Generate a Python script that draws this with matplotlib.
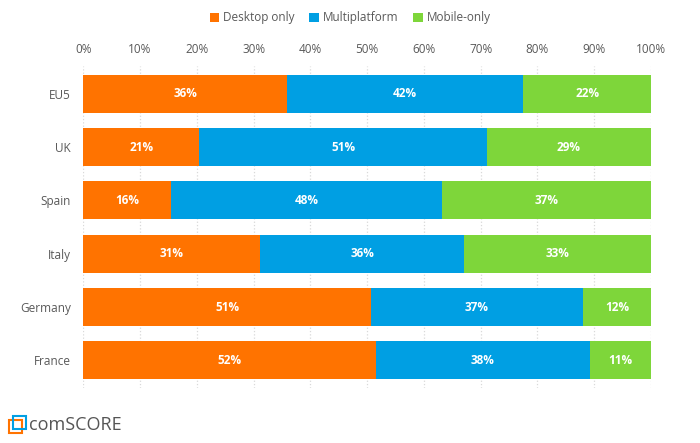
import numpy as np
import matplotlib.pyplot as plt
from matplotlib.patches import Rectangle

plt.rcParams['font.family'] = ['Open Sans', 'DejaVu Sans']

# data (bar widths) plus the printed labels
countries = ['EU5', 'UK', 'Spain', 'Italy', 'Germany', 'France']
desktop = [35.9, 20.4, 15.5, 31.2, 50.7, 51.5]
multi = [41.6, 50.7, 47.7, 35.8, 37.3, 37.8]
mobile = [22.5, 28.9, 36.8, 33.0, 12.0, 10.7]
desktop_lbl = ['36%', '21%', '16%', '31%', '51%', '52%']
multi_lbl = ['42%', '51%', '48%', '36%', '37%', '38%']
mobile_lbl = ['22%', '29%', '37%', '33%', '12%', '11%']
series_names = ['Desktop only', 'Multiplatform', 'Mobile-only']
colors = ['#FF7300', '#009FE3', '#7ED63A']
ticks = np.arange(0, 101, 10)

fig = plt.figure(figsize=(7, 4.43), dpi=100)
ax = fig.add_axes([0.119, 0.124, 0.811, 0.727])

y = np.arange(len(countries))
left = np.zeros(len(countries))
for vals, lbls, col, name in zip([desktop, multi, mobile],
                                 [desktop_lbl, multi_lbl, mobile_lbl],
                                 colors, series_names):
    bars = ax.barh(y, vals, left=left, height=0.71, color=col, label=name, zorder=3)
    ax.bar_label(bars, labels=lbls, label_type='center', color='white',
                 fontsize=8.5, fontweight='bold')
    left = left + np.array(vals)

ax.set_xlim(0, 100)
ax.set_ylim(5.52, -0.52)
ax.set_xticks(ticks)
ax.set_xticklabels([f'{t}%' for t in ticks])
ax.xaxis.tick_top()
ax.tick_params(axis='x', length=0, pad=7, labelsize=8.5, labelcolor='#595959')
ax.set_yticks(y)
ax.set_yticklabels(countries)
ax.tick_params(axis='y', length=0, pad=9, labelsize=8.5, labelcolor='#595959')
ax.grid(axis='x', color='#D9D9D9', linestyle=':', linewidth=0.9, zorder=0)
for s in ax.spines.values():
    s.set_visible(False)

ax.legend(loc='center', bbox_to_anchor=((0.5 - 0.119) / 0.811, (1 - 18 / 443 - 0.124) / 0.727),
          ncol=3, frameon=False, fontsize=8.5, handlelength=0.8, handleheight=0.8,
          handletextpad=0.3, columnspacing=1.3, labelcolor='#595959')

# comScore logo
fig.patches.append(Rectangle((0.013, 0.022), 0.018, 0.03, transform=fig.transFigure,
                             fill=False, edgecolor='#FF7300', linewidth=1.5))
fig.patches.append(Rectangle((0.019, 0.032), 0.018, 0.03, transform=fig.transFigure,
                             fill=False, edgecolor='#009FE3', linewidth=1.5))
fig.text(0.042, 0.04, 'comSCORE', fontsize=13, color='#555555', va='center')

fig.savefig('out.png', dpi=100, facecolor='white')
